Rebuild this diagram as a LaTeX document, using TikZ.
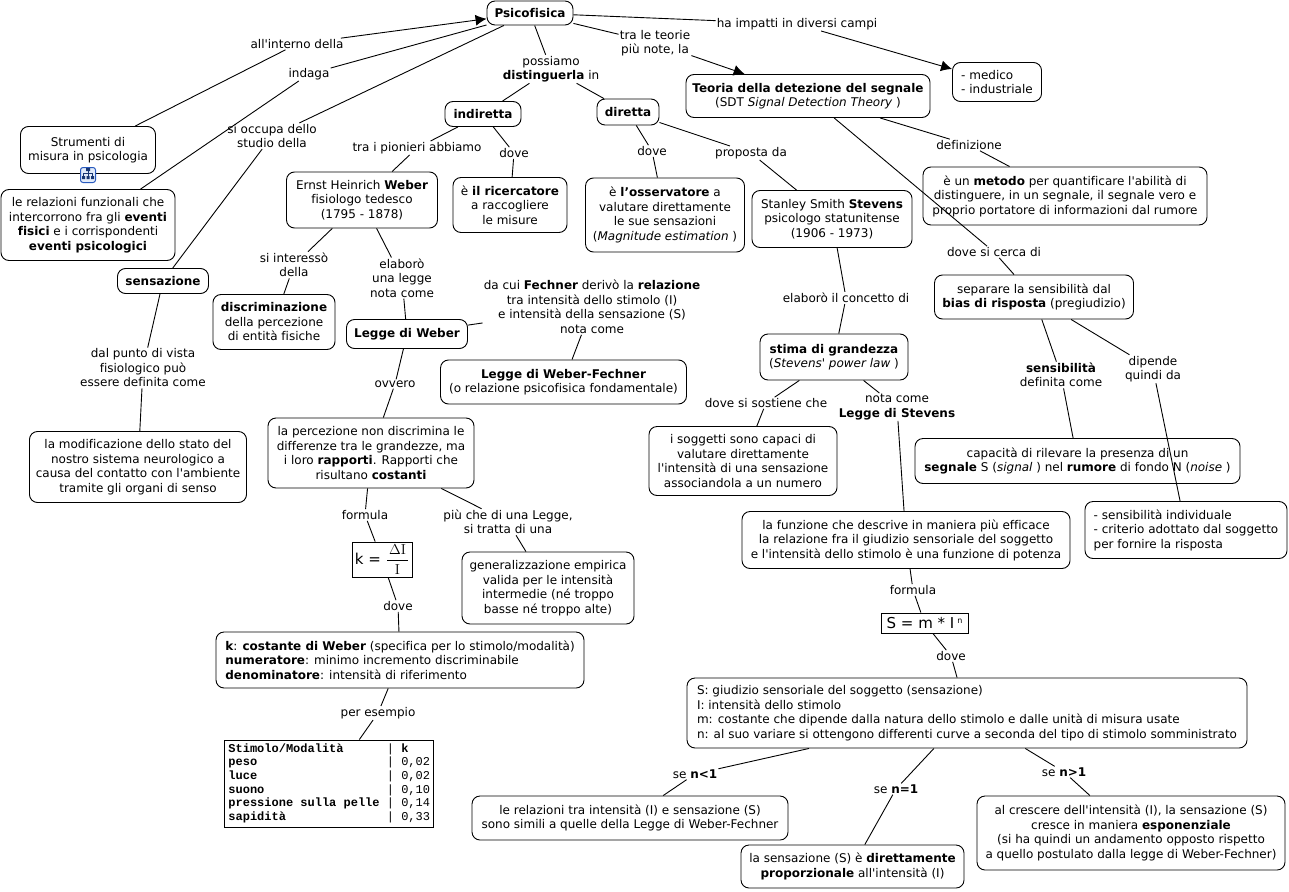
\documentclass[tikz,border=0pt]{standalone}
\usepackage[no-math]{fontspec}
\usepackage{amsmath}
\setmainfont{DejaVu Sans}[Ligatures={TeXOff,NoCommon}]
\setmonofont{Liberation Mono}[Ligatures=TeXOff]
\usetikzlibrary{arrows.meta}
\definecolor{iconblue}{RGB}{40,90,190}
\definecolor{iconfill}{RGB}{225,235,250}
\tikzset{
    concept/.style={draw, fill=white, line width=0.9pt, rounded corners=8pt, align=center, inner sep=1pt,
        font=\fontsize{12}{14.5}\selectfont},
    linkname/.style={align=center, inner sep=1pt, font=\fontsize{12}{14.5}\selectfont},
    plainbox/.style={draw, fill=white, line width=0.9pt, align=center, inner sep=1pt,
        font=\fontsize{12}{14.5}\selectfont},
    wire/.style={line width=0.9pt},
    arrowwire/.style={line width=0.9pt, -{Latex[length=11pt,width=11pt]}}
}

\begin{document}
\begin{tikzpicture}[x=1pt,y=-1pt]
    \useasboundingbox (0,0) rectangle (1289,891);

    \node[concept, minimum width=86pt, minimum height=24pt] (psico) at (530,13) {\textbf{Psicofisica}};
    \node[concept, minimum width=135pt, minimum height=47pt] (strumenti) at (88,150) {Strumenti di\\misura in psicologia};
    \node[concept, minimum width=174pt, minimum height=71pt] (relazioni) at (88,225) {le relazioni funzionali che\\intercorrono fra gli \textbf{eventi}\\\textbf{fisici} e i corrispondenti\\\textbf{eventi psicologici}};
    \node[concept, minimum width=91pt, minimum height=25pt] (sensazione) at (163,281) {\textbf{sensazione}};
    \node[concept, minimum width=217pt, minimum height=71pt] (modificazione) at (138,467) {la modificazione dello stato del\\nostro sistema neurologico a\\causa del contatto con l'ambiente\\tramite gli organi di senso};
    \node[concept, minimum width=76pt, minimum height=25pt] (indiretta) at (483,114) {\textbf{indiretta}};
    \node[concept, minimum width=62pt, minimum height=26pt] (diretta) at (628,112) {\textbf{diretta}};
    \node[concept, minimum width=151pt, minimum height=56pt] (ernst) at (362,200) {Ernst Heinrich \textbf{Weber}\\fisiologo tedesco\\(1795 - 1878)};
    \node[concept, minimum width=114pt, minimum height=55pt] (ricercatore) at (510,205) {è \textbf{il ricercatore}\\a raccogliere\\le misure};
    \node[concept, minimum width=159pt, minimum height=74pt] (osservatore) at (665,215) {è \textbf{l’osservatore} a\\valutare direttamente\\le sue sensazioni\\(\textit{Magnitude estimation} )};
    \node[concept, minimum width=160pt, minimum height=57pt] (stanley) at (832,219) {Stanley Smith \textbf{Stevens}\\psicologo statunitense\\(1906 - 1973)};
    \node[concept, minimum width=244pt, minimum height=43pt] (teoria) at (808,96) {\textbf{Teoria della detezione del segnale}\\(SDT \textit{Signal Detection Theory} )};
    \node[concept, minimum width=89pt, minimum height=39pt, align=left] (medico) at (997,82) {- medico\\- industriale};
    \node[concept, minimum width=284pt, minimum height=58pt] (metodo) at (1065,196) {è un \textbf{metodo} per quantificare l'abilità di\\distinguere, in un segnale, il segnale vero e\\proprio portatore di informazioni dal rumore};
    \node[concept, minimum width=199pt, minimum height=44pt] (separare) at (1034,297) {separare la sensibilità dal\\\textbf{bias di risposta} (pregiudizio)};
    \node[concept, minimum width=122pt, minimum height=55pt] (discriminazione) at (274,322) {\textbf{discriminazione}\\della percezione\\di entità fisiche};
    \node[concept, minimum width=121pt, minimum height=29pt] (weberlaw) at (407,334) {\textbf{Legge di Weber}};
    \node[concept, minimum width=246pt, minimum height=44pt] (fechner) at (563.5,382) {\textbf{Legge di Weber-Fechner}\\(o relazione psicofisica fondamentale)};
    \node[concept, minimum width=148pt, minimum height=46pt] (stima) at (834,357) {\textbf{stima di grandezza}\\(\textit{Stevens' power law} )};
    \node[concept, minimum width=206pt, minimum height=70pt] (percezione) at (371,453) {la percezione non discrimina le\\differenze tra le grandezze, ma\\i loro \textbf{rapporti}. Rapporti che\\risultano \textbf{costanti}};
    \node[plainbox, minimum width=60pt, minimum height=35pt] (kbox) at (382,559.5) {{\fontsize{15}{18}\selectfont k =}\hspace{5pt}{\fontsize{14}{17}\selectfont$\dfrac{\hspace{2pt}\Delta\mathrm{I}\hspace{2pt}}{\mathrm{I}}$}};
    \node[concept, minimum width=172pt, minimum height=72pt] (generalizzazione) at (548,588) {generalizzazione empirica\\valida per le intensità\\intermedie (né troppo\\basse né troppo alte)};
    \node[concept, minimum width=368pt, minimum height=56pt, align=left] (costante) at (400,660) {\textbf{k}: \textbf{costante di Weber} (specifica per lo stimolo/modalità)\\\textbf{numeratore}: minimo incremento discriminabile\\\textbf{denominatore}: intensità di riferimento};
    \node[plainbox, minimum width=209pt, minimum height=87pt] (tabella) at (328.5,783.5) {\fontsize{12}{13.7}\selectfont\ttfamily\raisebox{-1pt}{\hspace*{1.5pt}\begin{tabular}{@{}l@{ }l@{}}
        \textbf{Stimolo/Modalità} & | \textbf{k}\\
        \textbf{peso} & | 0,02\\
        \textbf{luce} & | 0,02\\
        \textbf{suono} & | 0,10\\
        \textbf{pressione sulla pelle} & | 0,14\\
        \textbf{sapidità} & | 0,33
    \end{tabular}}};
    \node[concept, minimum width=188pt, minimum height=69pt] (soggetti) at (743,461) {i soggetti sono capaci di\\valutare direttamente\\l'intensità di una sensazione\\associandola a un numero};
    \node[concept, minimum width=325pt, minimum height=45pt] (capacita) at (1077.5,461) {capacità di rilevare la presenza di un\\\textbf{segnale} S (\textit{signal} ) nel \textbf{rumore} di fondo N (\textit{noise} )};
    \node[concept, minimum width=202pt, minimum height=57pt, align=left] (individuale) at (1186,530) {- sensibilità individuale\\- criterio adottato dal soggetto\\per fornire la risposta};
    \node[concept, minimum width=328pt, minimum height=57pt] (funzione) at (906,540) {la funzione che descrive in maniera più efficace\\la relazione fra il giudizio sensoriale del soggetto\\e l'intensità dello stimolo è una funzione di potenza};
    \node[plainbox, minimum width=87pt, minimum height=20pt] (sbox) at (924.5,623) {\fontsize{15}{18}\selectfont S = m * I\hspace{3pt}\raisebox{5pt}{\fontsize{8}{9}\selectfont n}};
    \node[concept, minimum width=560pt, minimum height=70pt, align=left] (giudizio) at (967,713) {S: giudizio sensoriale del soggetto (sensazione)\\I: intensità dello stimolo\\m: costante che dipende dalla natura dello stimolo e dalle unità di misura usate\\n: al suo variare si ottengono differenti curve a seconda del tipo di stimolo somministrato};
    \node[concept, minimum width=316pt, minimum height=44pt] (relminore) at (630,818) {le relazioni tra intensità (I) e sensazione (S)\\sono simili a quelle della Legge di Weber-Fechner};
    \node[concept, minimum width=223pt, minimum height=43pt] (reluguale) at (852.5,866.5) {la sensazione (S) è \textbf{direttamente}\\\textbf{proporzionale} all'intensità (I)};
    \node[concept, minimum width=308pt, minimum height=74pt] (relmaggiore) at (1131,833) {al crescere dell'intensità (I), la sensazione (S)\\cresce in maniera \textbf{esponenziale}\\(si ha quindi un andamento opposto rispetto\\a quello postulato dalla legge di Weber-Fechner)};

    \node[linkname] (interno) at (297,44) {all'interno della};
    \node[linkname] (indaga) at (309,74) {indaga};
    \node[linkname] (occupa) at (272,136) {si occupa dello\\studio della};
    \node[linkname] (possiamo) at (551,69) {possiamo\\\textbf{distinguerla} in};
    \node[linkname] (teorie) at (655,43) {tra le teorie\\più note, la};
    \node[linkname] (impatti) at (797,24) {ha impatti in diversi campi};
    \node[linkname] (punto) at (143,368) {dal punto di vista\\fisiologico può\\essere definita come};
    \node[linkname] (pionieri) at (417,148) {tra i pionieri abbiamo};
    \node[linkname] (doveind) at (514,153) {dove};
    \node[linkname] (dovedir) at (652,151) {dove};
    \node[linkname] (proposta) at (751,153) {proposta da};
    \node[linkname] (definizione) at (969,145) {definizione};
    \node[linkname] (cerca) at (994,252) {dove si cerca di};
    \node[linkname] (interesso) at (294,265) {si interessò\\della};
    \node[linkname] (elaboro) at (402,278) {elaborò\\una legge\\nota come};
    \node[linkname] (cui) at (592,307) {da cui \textbf{Fechner} derivò la \textbf{relazione}\\tra intensità dello stimolo (I)\\e intensità della sensazione (S)\\nota come};
    \node[linkname] (ovvero) at (395,384) {ovvero};
    \node[linkname] (concetto) at (846,298) {elaborò il concetto di};
    \node[linkname] (sostiene) at (766,403) {dove si sostiene che};
    \node[linkname] (notacome) at (897,407) {nota come\\\textbf{Legge di Stevens}};
    \node[linkname] (sensib) at (1061,375) {\textbf{sensibilità}\\definita come};
    \node[linkname] (dipende) at (1153,369) {dipende\\quindi da};
    \node[linkname] (formulak) at (365,515) {formula};
    \node[linkname] (piu) at (508,522) {più che di una Legge,\\si tratta di una};
    \node[linkname] (dovek) at (398,606) {dove};
    \node[linkname] (esempio) at (378,713) {per esempio};
    \node[linkname] (formulas) at (913,590) {formula};
    \node[linkname] (doves) at (951,656) {dove};
    \node[linkname] (seminore) at (695,774) {se \textbf{n<1}};
    \node[linkname] (seuguale) at (896,789) {se \textbf{n=1}};
    \node[linkname] (semaggiore) at (1064,772) {se \textbf{n>1}};

    \draw[wire] (strumenti) -- (interno);
    \draw[arrowwire] (interno) -- (psico);
    \draw[wire] (psico) -- (indaga);
    \draw[wire] (indaga) -- (relazioni);
    \draw[wire] (psico) -- (occupa);
    \draw[wire] (occupa) -- (sensazione);
    \draw[wire] (sensazione) -- (punto);
    \draw[wire] (punto) -- (modificazione);
    \draw[wire] (psico) -- (possiamo);
    \draw[wire] (possiamo) -- (indiretta);
    \draw[wire] (possiamo) -- (diretta);
    \draw[wire] (psico) -- (teorie);
    \draw[arrowwire] (teorie) -- (teoria);
    \draw[wire] (psico) -- (impatti);
    \draw[arrowwire] (impatti) -- (medico);
    \draw[wire] (indiretta) -- (pionieri);
    \draw[wire] (pionieri) -- (ernst);
    \draw[wire] (indiretta) -- (doveind);
    \draw[wire] (doveind) -- (ricercatore);
    \draw[wire] (diretta) -- (dovedir);
    \draw[wire] (dovedir) -- (osservatore);
    \draw[wire] (diretta) -- (proposta);
    \draw[wire] (proposta) -- (stanley);
    \draw[wire] (ernst) -- (interesso);
    \draw[wire] (interesso) -- (discriminazione);
    \draw[wire] (ernst) -- (elaboro);
    \draw[wire] (elaboro) -- (weberlaw);
    \draw[wire] (weberlaw) -- (cui);
    \draw[wire] (cui) -- (fechner);
    \draw[wire] (weberlaw) -- (ovvero);
    \draw[wire] (ovvero) -- (percezione);
    \draw[wire] (percezione) -- (formulak);
    \draw[wire] (formulak) -- (kbox);
    \draw[wire] (percezione) -- (piu);
    \draw[wire] (piu) -- (generalizzazione);
    \draw[wire] (kbox) -- (dovek);
    \draw[wire] (dovek) -- (costante);
    \draw[wire] (costante) -- (esempio);
    \draw[wire] (esempio) -- (tabella);
    \draw[wire] (stanley) -- (concetto);
    \draw[wire] (concetto) -- (stima);
    \draw[wire] (stima) -- (sostiene);
    \draw[wire] (sostiene) -- (soggetti);
    \draw[wire] (stima) -- (notacome);
    \draw[wire] (notacome) -- (funzione);
    \draw[wire] (funzione) -- (formulas);
    \draw[wire] (formulas) -- (sbox);
    \draw[wire] (sbox) -- (doves);
    \draw[wire] (doves) -- (giudizio);
    \draw[wire] (giudizio) -- (seminore);
    \draw[wire] (seminore) -- (relminore);
    \draw[wire] (giudizio) -- (seuguale);
    \draw[wire] (seuguale) -- (reluguale);
    \draw[wire] (giudizio) -- (semaggiore);
    \draw[wire] (semaggiore) -- (relmaggiore);
    \draw[wire] (teoria) -- (definizione);
    \draw[wire] (definizione) -- (metodo);
    \draw[wire] (teoria) -- (cerca);
    \draw[wire] (cerca) -- (separare);
    \draw[wire] (separare) -- (sensib);
    \draw[wire] (sensib) -- (capacita);
    \draw[wire] (separare) -- (dipende);
    \draw[wire] (dipende) -- (individuale);

    \node[draw=iconblue, fill=iconfill, line width=1pt, rounded corners=2.5pt, minimum size=15pt, inner sep=0pt] (icona) at (88,175) {};
    \draw[iconblue!60!black, line width=0.7pt] (88,170) -- (88,173) (83.5,176) -- (83.5,173) -- (92.5,173) -- (92.5,176) (88,173) -- (88,176);
    \fill[iconblue!60!black] (86,168) rectangle (90,171) (82,176) rectangle (85,179) (86.5,176) rectangle (89.5,179) (91,176) rectangle (94,179);
\end{tikzpicture}
\end{document}
